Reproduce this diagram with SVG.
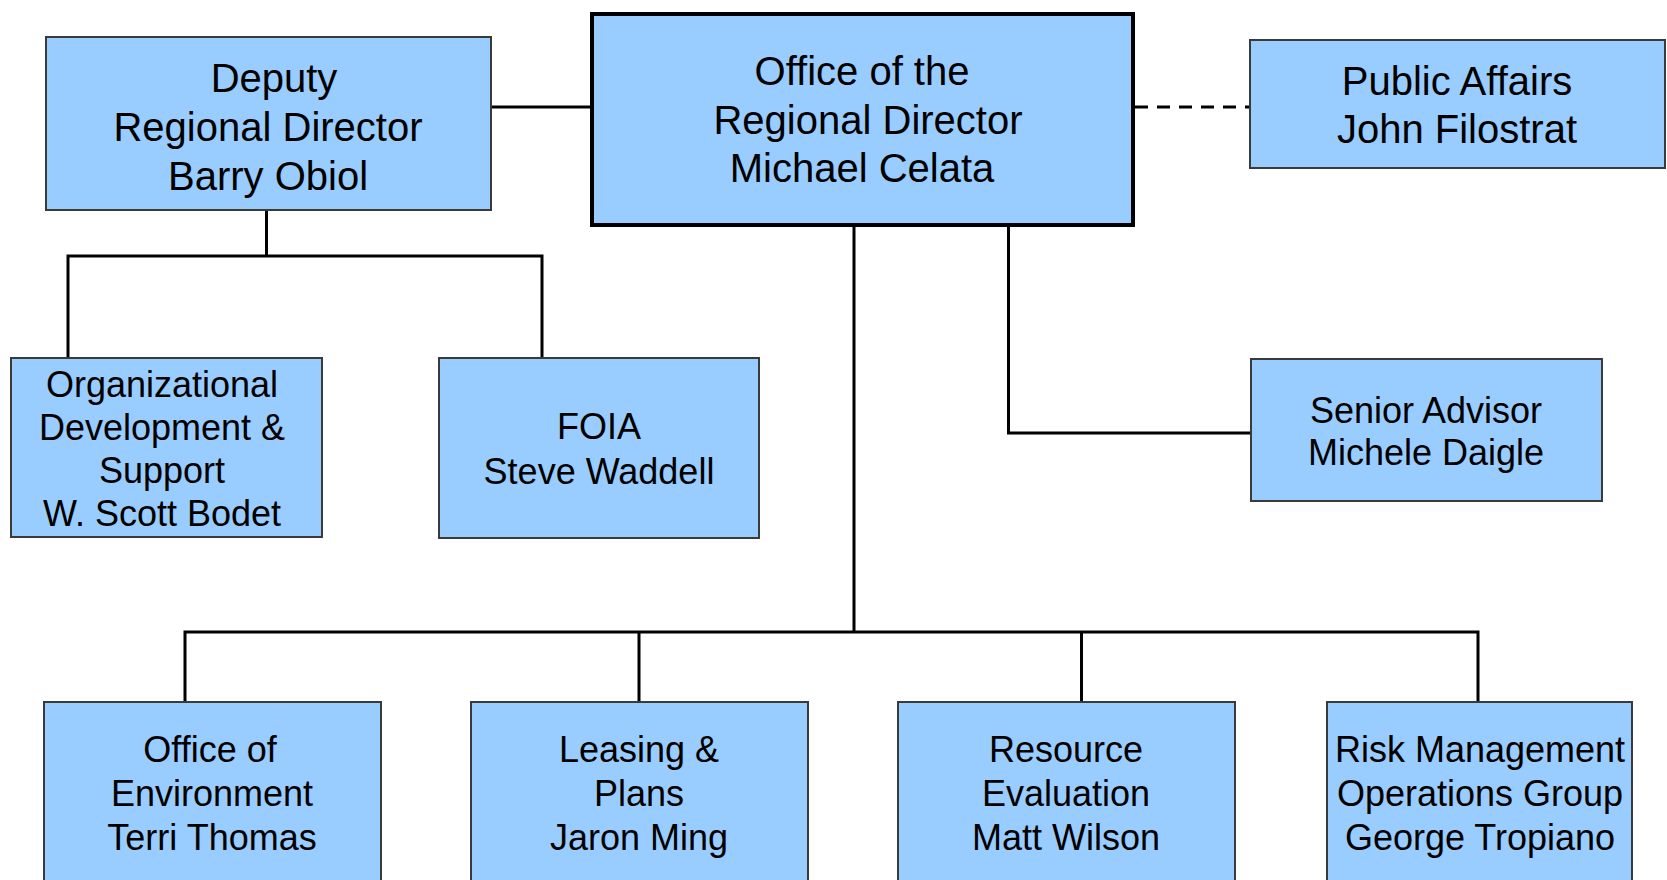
<svg xmlns="http://www.w3.org/2000/svg" width="1667" height="880" viewBox="0 0 1667 880">
<style>
.box{fill:#99CCFF;stroke:#3a3a3a;stroke-width:2}
.main{fill:#99CCFF;stroke:#000;stroke-width:4}
.t40{font-family:"Liberation Sans",Arial,sans-serif;font-size:40px;fill:#000;text-anchor:middle}
.t36{font-family:"Liberation Sans",Arial,sans-serif;font-size:36px;fill:#000;text-anchor:middle}
.ln{fill:none;stroke:#000;stroke-width:3}
.dash{fill:none;stroke:#000;stroke-width:3;stroke-dasharray:13 9}
</style>
<rect width="1667" height="880" fill="#fff"/>
<g id="connectors">
<line class="ln" x1="491" y1="107" x2="591" y2="107"/>
<line class="dash" x1="1135" y1="107" x2="1250" y2="107"/>
<polyline class="ln" points="266.5,210 266.5,256"/>
<polyline class="ln" points="68,358 68,256 542,256 542,358"/>
<polyline class="ln" points="854,226 854,632"/>
<polyline class="ln" points="1008.5,226 1008.5,433 1251,433"/>
<polyline class="ln" points="185,702 185,632 1478,632 1478,702"/>
<line class="ln" x1="639" y1="632" x2="639" y2="702"/>
<line class="ln" x1="1081.5" y1="632" x2="1081.5" y2="702"/>
</g>
<g id="deputy">
<rect class="box" x="46" y="37" width="445" height="173"/>
<text class="t40" x="274" y="92">Deputy</text>
<text class="t40" x="268" y="141">Regional Director</text>
<text class="t40" x="268" y="190">Barry Obiol</text>
</g>
<g id="regional-director">
<rect class="main" x="592" y="14" width="541" height="211"/>
<text class="t40" x="862" y="85">Office of the</text>
<text class="t40" x="868" y="134">Regional Director</text>
<text class="t40" x="862" y="182">Michael Celata</text>
</g>
<g id="public-affairs">
<rect class="box" x="1250" y="40" width="415" height="128"/>
<text class="t40" x="1457" y="95">Public Affairs</text>
<text class="t40" x="1457" y="143">John Filostrat</text>
</g>
<g id="org-dev">
<rect class="box" x="11" y="358" width="311" height="179"/>
<text class="t36" x="162" y="397">Organizational</text>
<text class="t36" x="162" y="440">Development &amp;</text>
<text class="t36" x="162" y="483">Support</text>
<text class="t36" x="162" y="526">W. Scott Bodet</text>
</g>
<g id="foia">
<rect class="box" x="439" y="358" width="320" height="180"/>
<text class="t36" x="599" y="439">FOIA</text>
<text class="t36" x="599" y="484">Steve Waddell</text>
</g>
<g id="senior-advisor">
<rect class="box" x="1251" y="359" width="351" height="142"/>
<text class="t36" x="1426" y="423">Senior Advisor</text>
<text class="t36" x="1426" y="465">Michele Daigle</text>
</g>
<g id="environment">
<rect class="box" x="44" y="702" width="337" height="182"/>
<text class="t36" x="210" y="762">Office of</text>
<text class="t36" x="212" y="806">Environment</text>
<text class="t36" x="212" y="850">Terri Thomas</text>
</g>
<g id="leasing">
<rect class="box" x="471" y="702" width="337" height="182"/>
<text class="t36" x="639" y="762">Leasing &amp;</text>
<text class="t36" x="639" y="806">Plans</text>
<text class="t36" x="639" y="850">Jaron Ming</text>
</g>
<g id="resource">
<rect class="box" x="898" y="702" width="337" height="182"/>
<text class="t36" x="1066" y="762">Resource</text>
<text class="t36" x="1066" y="806">Evaluation</text>
<text class="t36" x="1066" y="850">Matt Wilson</text>
</g>
<g id="risk">
<rect class="box" x="1327" y="702" width="305" height="182"/>
<text class="t36" x="1480" y="762">Risk Management</text>
<text class="t36" x="1480" y="806">Operations Group</text>
<text class="t36" x="1480" y="850">George Tropiano</text>
</g>
</svg>
